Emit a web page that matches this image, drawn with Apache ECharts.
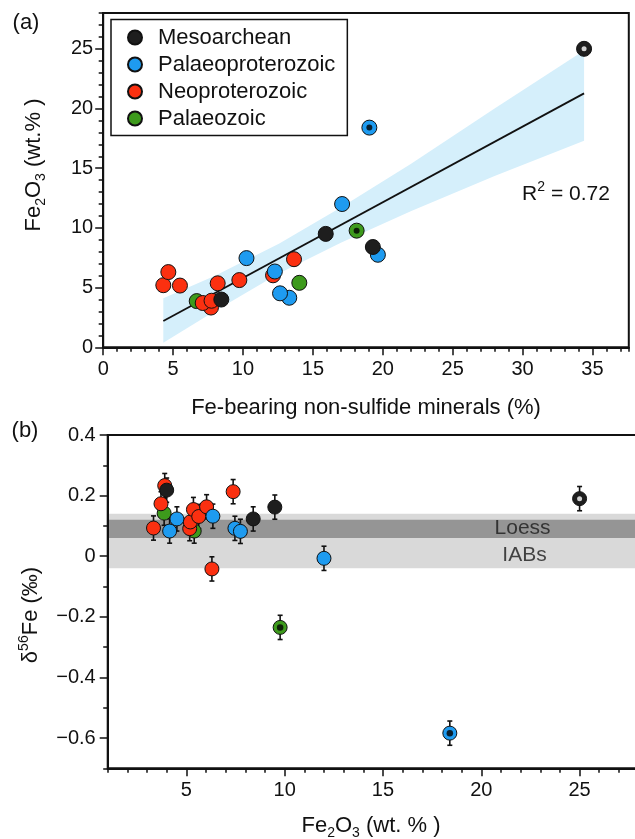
<!DOCTYPE html>
<html><head><meta charset="utf-8">
<script src="https://cdn.jsdelivr.net/npm/echarts@6/dist/echarts.min.js"></script>
<style>html,body{margin:0;padding:0;background:#fff}#c{width:635px;height:839px}</style>
</head><body><div id="c"></div>
<script>
// ---------- data ----------
const groupNames = ['Mesoarchean', 'Palaeoproterozoic', 'Neoproterozoic', 'Palaeozoic'];
// Fe-bearing non-sulfide minerals (%), Fe2O3 (wt.%), d56Fe (permil), 2SD
const mesoMin = [8.45, 19.29, 15.92, 34.4];
const mesoFe2O3 = [4.0, 8.4, 9.5, 25.0];
const mesoD56 = [0.218, 0.123, 0.162, 0.19];
const mesoErr = [0.04, 0.04, 0.04, 0.04];

const palProtMin = [13.31, 12.65, 12.28, 10.25, 19.65, 17.09, 19.04];
const palProtFe2O3 = [4.15, 4.52, 6.35, 7.47, 7.75, 12.0, 18.4];
const palProtD56 = [0.083, 0.123, 0.132, 0.092, 0.082, -0.007, -0.584];
const palProtErr = [0.04, 0.04, 0.04, 0.04, 0.04, 0.04, 0.04];

const neoMin = [7.71, 7.12, 7.75, 5.49, 4.30, 8.19, 9.74, 12.15, 4.66, 13.65];
const neoFe2O3 = [3.33, 3.71, 3.9, 5.17, 5.2, 5.36, 5.63, 6.03, 6.3, 7.38];
const neoD56 = [0.093, 0.173, 0.233, 0.091, 0.113, 0.154, 0.131, 0.163, -0.042, 0.213];
const neoErr = [0.04, 0.04, 0.04, 0.04, 0.04, 0.04, 0.04, 0.04, 0.04, 0.04];

const palzMin = [6.69, 14.03, 18.13];
const palzFe2O3 = [3.87, 5.4, 9.77];
const palzD56 = [0.142, 0.083, -0.235];
const palzErr = [0.04, 0.04, 0.04];

// special samples: [group, index, kind]  (hollow = white centre, dotted = black centre)
const specialSamples = [['Mesoarchean', 3, 'hollow'], ['Palaeoproterozoic', 6, 'dotted'], ['Palaeozoic', 2, 'dotted']];

// regression and 95% band (panel a)
const regX = [4.3, 34.4];
const regY = [2.2, 21.27];
const bandX = [4.3, 8, 12.6, 17, 22, 28, 34.4];
const bandLow = [0.39, 3.05, 6.2, 8.75, 11.4, 14.35, 17.3];
const bandHigh = [4.1, 6.0, 8.7, 11.7, 15.35, 20.0, 24.85];
const r2Text = 'R{sup|2} = 0.72';

// reference fields (panel b)
const iabsRange = [-0.04, 0.14];
const loessRange = [0.06, 0.12];
const fieldLabels = ['Loess', 'IABs'];
const fieldLabelX = [22.1, 22.2];
const fieldLabelY = [0.094, 0.004];

// ---------- styles ----------
const FONT = '"Liberation Sans", Arial, Helvetica, sans-serif';
const INK = '#111';
const colors = {Mesoarchean: '#1e1e1e', Palaeoproterozoic: '#1e9bf0', Neoproterozoic: '#fb3010', Palaeozoic: '#3d9a1c'};
const groups = {
  Mesoarchean: {min: mesoMin, fe: mesoFe2O3, d: mesoD56, e: mesoErr},
  Palaeoproterozoic: {min: palProtMin, fe: palProtFe2O3, d: palProtD56, e: palProtErr},
  Neoproterozoic: {min: neoMin, fe: neoFe2O3, d: neoD56, e: neoErr},
  Palaeozoic: {min: palzMin, fe: palzFe2O3, d: palzD56, e: palzErr}
};
const drawOrder = ['Palaeozoic', 'Neoproterozoic', 'Palaeoproterozoic', 'Mesoarchean'];

const rich = {
  sub: {fontSize: 14, lineHeight: 14, verticalAlign: 'bottom', fill: INK, color: INK, fontFamily: FONT},
  sup: {fontSize: 14, lineHeight: 14, verticalAlign: 'top', fill: INK, color: INK, fontFamily: FONT}
};
function gText(text, x, y, size, rot) {
  return {type: 'text', x: x, y: y, rotation: rot || 0, z: 50,
    style: {text: text, fontSize: size, fontFamily: FONT, fill: INK, align: 'center', verticalAlign: 'middle',
      lineHeight: size + 6, rich: rich}};
}

function mainAxis(gridIndex, pos, extra) {
  return Object.assign({
    type: 'value', gridIndex: gridIndex, position: pos,
    axisLine: {show: true, onZero: false, lineStyle: {color: INK, width: 2}},
    axisTick: {show: true, inside: false, length: 8, lineStyle: {color: INK, width: 1.5}},
    axisLabel: {fontSize: 20, color: INK, fontFamily: FONT, margin: 12},
    splitLine: {show: false}, z: 10
  }, extra);
}
function minorAxis(gridIndex, pos, extra) {
  return Object.assign({
    type: 'value', gridIndex: gridIndex, position: pos, interval: 1,
    axisLine: {show: false, onZero: false},
    axisTick: {show: true, inside: false, length: 4.5, lineStyle: {color: INK, width: 1.5}},
    axisLabel: {show: false}, splitLine: {show: false}, z: 10
  }, extra);
}
const minusFmt = v => (Math.abs(v) < 1e-9 ? '0' : (v < 0 ? '\u2212' + Math.abs(v).toFixed(1) : v.toFixed(1)));

const series = [];
// confidence band drawn as polygon through the axes
series.push({type: 'custom', xAxisIndex: 0, yAxisIndex: 0, z: 1, silent: true, data: [[bandX[0], bandLow[0]]],
  encode: {x: 0, y: 1},
  renderItem: function (params, api) {
    const pts = [];
    for (let i = 0; i < bandX.length; i++) pts.push(api.coord([bandX[i], bandHigh[i]]));
    for (let i = bandX.length - 1; i >= 0; i--) pts.push(api.coord([bandX[i], bandLow[i]]));
    return {type: 'polygon', shape: {points: pts}, style: {fill: '#d5effb', stroke: 'none'}};
  }});
series.push({type: 'line', xAxisIndex: 0, yAxisIndex: 0, symbol: 'none', silent: true, z: 2,
  lineStyle: {color: INK, width: 1.8}, data: regX.map((x, i) => [x, regY[i]])});

drawOrder.forEach(n => {
  const g = groups[n];
  series.push({type: 'scatter', name: n, xAxisIndex: 0, yAxisIndex: 0, symbolSize: 15, z: 3,
    itemStyle: {color: colors[n], borderColor: INK, borderWidth: 1, opacity: 1},
    data: g.min.map((x, i) => [x, g.fe[i]])});
});
series.push({type: 'scatter', xAxisIndex: 0, yAxisIndex: 0, z: 4, silent: true,
  data: specialSamples.map(s => ({value: [groups[s[0]].min[s[1]], groups[s[0]].fe[s[1]]],
    symbolSize: s[2] === 'hollow' ? 5 : 6, itemStyle: {color: s[2] === 'hollow' ? '#fff' : '#000', borderWidth: 0}}))});

// panel b fields
series.push({type: 'scatter', xAxisIndex: 2, yAxisIndex: 2, data: [], z: 1, silent: true,
  markArea: {silent: true, data: [
    [{yAxis: iabsRange[0], itemStyle: {color: '#d9d9d9', opacity: 1}}, {yAxis: iabsRange[1]}],
    [{yAxis: loessRange[0], itemStyle: {color: '#959595', opacity: 1}}, {yAxis: loessRange[1]}]
  ]}});
// error bars
const errData = [];
drawOrder.forEach(n => { const g = groups[n]; g.fe.forEach((x, i) => errData.push([x, g.d[i], g.e[i]])); });
series.push({type: 'custom', xAxisIndex: 2, yAxisIndex: 2, z: 2, silent: true, encode: {x: 0, y: 1},
  data: errData,
  renderItem: function (params, api) {
    const x = api.value(0), y = api.value(1), e = api.value(2);
    const hi = api.coord([x, y + e]), lo = api.coord([x, y - e]);
    const cw = 2.5, st = {stroke: INK, lineWidth: 1.6};
    return {type: 'group', children: [
      {type: 'line', shape: {x1: hi[0], y1: hi[1], x2: lo[0], y2: lo[1]}, style: st},
      {type: 'line', shape: {x1: hi[0] - cw, y1: hi[1], x2: hi[0] + cw, y2: hi[1]}, style: st},
      {type: 'line', shape: {x1: lo[0] - cw, y1: lo[1], x2: lo[0] + cw, y2: lo[1]}, style: st}
    ]};
  }});
drawOrder.forEach(n => {
  const g = groups[n];
  series.push({type: 'scatter', name: n, xAxisIndex: 2, yAxisIndex: 2, symbolSize: 14, z: 3,
    itemStyle: {color: colors[n], borderColor: INK, borderWidth: 1, opacity: 1},
    data: g.fe.map((x, i) => [x, g.d[i]])});
});
series.push({type: 'scatter', xAxisIndex: 2, yAxisIndex: 2, z: 4, silent: true,
  data: specialSamples.map(s => ({value: [groups[s[0]].fe[s[1]], groups[s[0]].d[s[1]]],
    symbolSize: s[2] === 'hollow' ? 5 : 6.5, itemStyle: {color: s[2] === 'hollow' ? '#fff' : '#000', borderWidth: 0}}))});
series.push({type: 'scatter', xAxisIndex: 2, yAxisIndex: 2, z: 5, silent: true, symbolSize: 0,
  data: fieldLabels.map((t, i) => ({name: t, value: [fieldLabelX[i], fieldLabelY[i]]})),
  label: {show: true, position: 'inside', formatter: p => p.name, fontSize: 21, color: '#1a1a1a', fontFamily: FONT}});

const option = {
  animation: false,
  backgroundColor: '#fff',
  grid: [
    {left: 103.2, top: 13, right: 6.2, bottom: 491.7, show: true, borderColor: INK, borderWidth: 2, backgroundColor: 'transparent', outerBoundsMode: 'none'},
    {left: 107.7, top: 435, right: -2, bottom: 70.7, show: true, borderColor: INK, borderWidth: 2, backgroundColor: 'transparent', outerBoundsMode: 'none'}
  ],
  xAxis: [
    mainAxis(0, 'bottom', {min: 0, max: 37.6, interval: 5, axisLabel: {fontSize: 20, color: INK, fontFamily: FONT, margin: 12, showMaxLabel: false}}),
    minorAxis(0, 'bottom', {min: 0, max: 37.6}),
    mainAxis(1, 'bottom', {min: 1, max: 27.92, splitNumber: 5, axisLabel: {fontSize: 20, color: INK, fontFamily: FONT, margin: 12, showMinLabel: false, showMaxLabel: false}}),
    minorAxis(1, 'bottom', {min: 1, max: 27.92})
  ],
  yAxis: [
    mainAxis(0, 'left', {min: 0, max: 28, interval: 5, axisLabel: {fontSize: 20, color: INK, fontFamily: FONT, margin: 10, showMaxLabel: false}}),
    minorAxis(0, 'left', {min: 0, max: 28}),
    mainAxis(1, 'left', {min: -0.7, max: 0.4, splitNumber: 5, axisLabel: {fontSize: 20, color: INK, fontFamily: FONT, margin: 12, showMinLabel: false, formatter: minusFmt}}),
    minorAxis(1, 'left', {min: -0.7, max: 0.4, interval: 0.1})
  ],
  legend: {
    data: groupNames, orient: 'vertical', left: 111, top: 19.5, padding: [7, 12, 6, 16],
    itemGap: 5, itemWidth: 36, itemHeight: 14, selectedMode: false,
    textStyle: {fontSize: 22, color: INK, fontFamily: FONT},
    borderColor: INK, borderWidth: 1.5, backgroundColor: '#fff', borderRadius: 0
  },
  graphic: [
    gText('(a)', 26, 23, 22),
    gText('(b)', 25, 431, 22),
    gText('Fe-bearing non-sulfide minerals (%)', 366, 408, 22),
    gText('Fe{sub|2}O{sub|3} (wt.% )', 34, 165, 22, Math.PI / 2),
    gText('Fe{sub|2}O{sub|3} (wt. % )', 371, 826, 22),
    gText('\u03b4{sup|56}Fe (\u2030)', 31, 615, 22, Math.PI / 2),
    gText(r2Text, 566, 194, 21)
  ],
  series: series
};
const chart = echarts.init(document.getElementById('c'), null, {renderer: 'canvas'});
chart.setOption(option);
</script></body></html>
